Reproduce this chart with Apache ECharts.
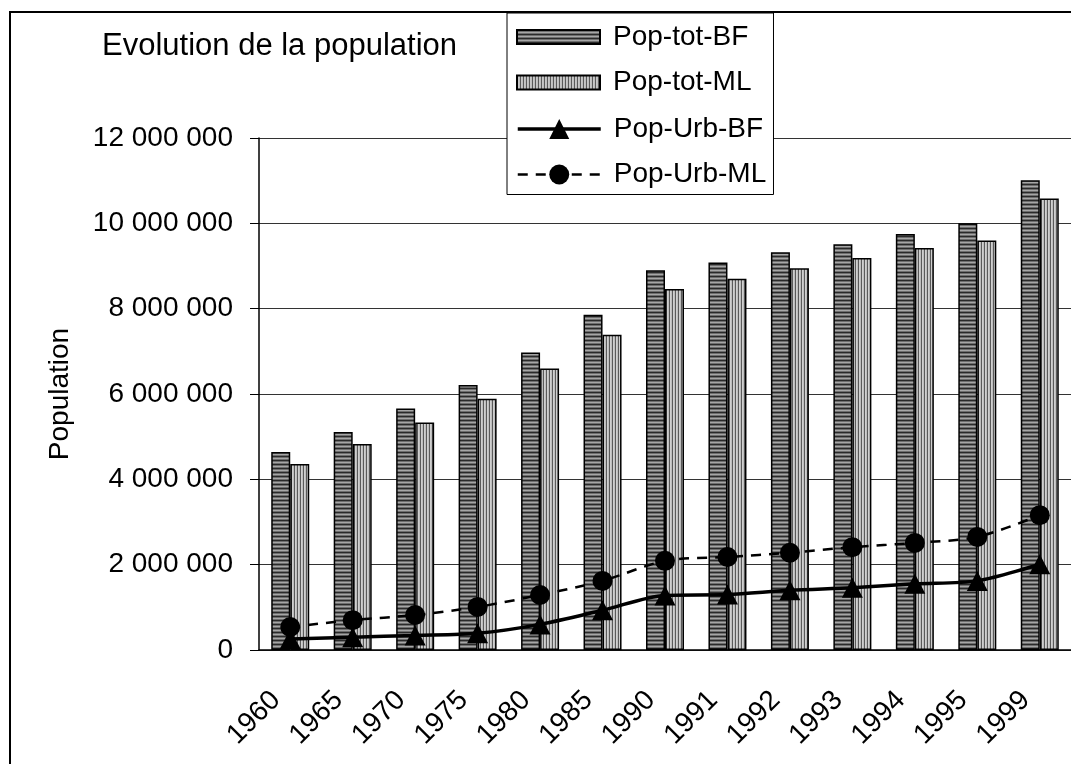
<!DOCTYPE html>
<html>
<head>
<meta charset="utf-8">
<script src="https://cdn.jsdelivr.net/npm/echarts@6/dist/echarts.min.js"></script>
<style>
  html, body { margin: 0; padding: 0; background: #fff; overflow: hidden; }
  #chart { width: 1071px; height: 764px; }
</style>
</head>
<body>
<div id="chart"></div>
<script>
const years = ['1960', '1965', '1970', '1975', '1980', '1985', '1990', '1991', '1992', '1993', '1994', '1995', '1999']
const popTotBF = [4640000, 5110000, 5660000, 6210000, 6970000, 7860000, 8900000, 9080000, 9320000, 9510000, 9750000, 10000000, 11010000]
const popTotML = [4360000, 4830000, 5330000, 5890000, 6600000, 7390000, 8460000, 8700000, 8950000, 9190000, 9420000, 9600000, 10580000]
const popUrbBF = [260000, 300000, 340000, 390000, 600000, 930000, 1280000, 1300000, 1400000, 1460000, 1550000, 1620000, 2010000]
const popUrbML = [540000, 700000, 820000, 1010000, 1290000, 1620000, 2090000, 2180000, 2280000, 2410000, 2510000, 2650000, 3160000]

const FONT = '"Liberation Sans", Arial, sans-serif'

// small canvas tiles for the striped bar fills
function stripes(horizontal, colors) {
    const n = colors.length
    const c = document.createElement('canvas')
    c.width = horizontal ? 4 : n
    c.height = horizontal ? n : 4
    const ctx = c.getContext('2d')
    colors.forEach((col, i) => {
        ctx.fillStyle = col
        if (horizontal) ctx.fillRect(0, i, 4, 1)
        else ctx.fillRect(i, 0, 1, 4)
    })
    return { image: c, repeat: 'repeat' }
}

const fillBF = stripes(true, ['#2a2a2a', '#6e6e6e', '#a6a6a6', '#6e6e6e'])
const fillML = stripes(false, ['#5a5a5a', '#cfcfcf', '#bdbdbd'])

const chart = echarts.init(document.getElementById('chart'))

const spaced = v => String(v).replace(/\B(?=(\d{3})+(?!\d))/g, ' ')

const legendText = { fontFamily: FONT, fontSize: 28, color: '#000', padding: [0, 0, 0, 8] }

const option = {
    backgroundColor: '#fff',
    animation: false,
    textStyle: { fontFamily: FONT },
    title: {
        text: 'Evolution de la population',
        left: 102,
        top: 31,
        padding: 0,
        textStyle: { fontFamily: FONT, fontSize: 31, fontWeight: 'normal', color: '#000' }
    },
    graphic: [{
        type: 'rect',
        z: -10,
        shape: { x: 10, y: 12, width: 1200, height: 900 },
        style: { fill: 'none', stroke: '#000', lineWidth: 2 }
    }],
    // two legends share one box: the first draws the frame, the second sits inside it
    legend: [
        {
            orient: 'vertical',
            left: 507,
            top: 13,
            padding: [10, 22, 98, 9],
            itemGap: 17.5,
            itemWidth: 83,
            itemHeight: 14,
            backgroundColor: '#fff',
            borderColor: '#000',
            borderWidth: 1,
            z: 20,
            textStyle: legendText,
            data: [
                { name: 'Pop-tot-BF', icon: 'rect' },
                { name: 'Pop-tot-ML', icon: 'rect' }
            ]
        },
        {
            orient: 'vertical',
            left: 516,
            top: 115,
            padding: 0,
            itemGap: 17.5,
            itemWidth: 83,
            itemHeight: 25,
            z: 21,
            textStyle: legendText,
            data: [
                { name: 'Pop-Urb-BF', lineStyle: { width: 3.5 } },
                { name: 'Pop-Urb-ML', lineStyle: { width: 2.5 } }
            ]
        }
    ],
    grid: {
        left: 259,
        right: -19,
        top: 138,
        bottom: 114
    },
    xAxis: {
        type: 'category',
        data: years,
        axisLine: { lineStyle: { color: '#000', width: 1.5 } },
        axisTick: { length: 10, lineStyle: { color: '#000' } },
        axisLabel: {
            interval: 0,
            rotate: 45,
            margin: 60,
            verticalAlign: 'bottom',
            lineHeight: 40,
            color: '#000',
            fontSize: 28,
            fontFamily: FONT
        }
    },
    yAxis: {
        type: 'value',
        min: 0,
        max: 12000000,
        interval: 2000000,
        name: 'Population',
        nameLocation: 'middle',
        nameGap: 185,
        nameRotate: 90,
        nameTextStyle: { fontFamily: FONT, fontSize: 28, color: '#000' },
        axisLine: { show: true, lineStyle: { color: '#000', width: 1.5 } },
        axisTick: { show: true, length: 9, lineStyle: { color: '#000' } },
        axisLabel: {
            margin: 26,
            color: '#000',
            fontSize: 28,
            fontFamily: FONT,
            formatter: spaced
        },
        splitLine: { lineStyle: { color: '#333', width: 1 } }
    },
    series: [
        {
            name: 'Pop-tot-BF',
            type: 'bar',
            data: popTotBF,
            barWidth: 19,
            barGap: '0%',
            itemStyle: { color: fillBF, borderColor: '#000', borderWidth: 1.5 }
        },
        {
            name: 'Pop-tot-ML',
            type: 'bar',
            data: popTotML,
            barWidth: 19,
            barGap: '0%',
            itemStyle: { color: fillML, borderColor: '#000', borderWidth: 1.5 }
        },
        {
            name: 'Pop-Urb-ML',
            type: 'line',
            data: popUrbML,
            smooth: 0.3,
            symbol: 'circle',
            symbolSize: 20,
            z: 3,
            lineStyle: { color: '#000', width: 2.5, type: [10, 8] },
            itemStyle: { color: '#000' }
        },
        {
            name: 'Pop-Urb-BF',
            type: 'line',
            data: popUrbBF,
            smooth: 0.3,
            symbol: 'triangle',
            symbolSize: [21, 20],
            z: 4,
            lineStyle: { color: '#000', width: 3.5 },
            itemStyle: { color: '#000' }
        }
    ]
}

chart.setOption(option)
</script>
</body>
</html>
